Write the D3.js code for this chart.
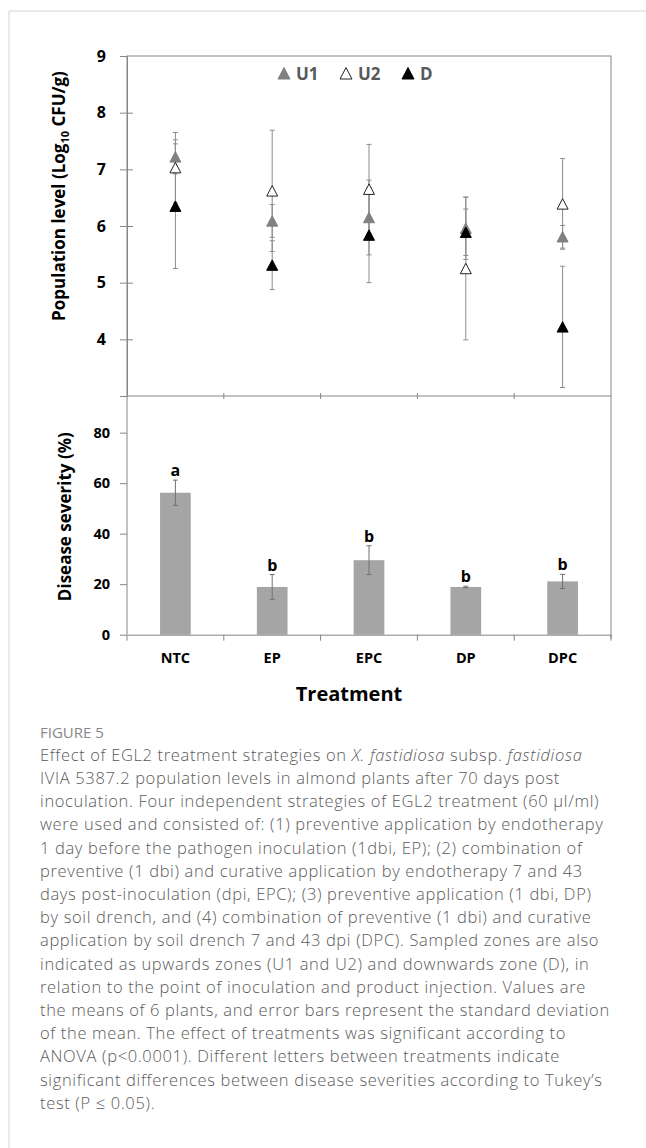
<!DOCTYPE html>
<html>
<head>
<meta charset="utf-8">
<script src="https://cdn.jsdelivr.net/npm/d3@7"></script>
<style>
  body { margin: 0; background: #fff; }
  svg { display: block; }
</style>
</head>
<body>
<svg id="chart"></svg>
<script>
// treatments and values
const treatments = ["NTC", "EP", "EPC", "DP", "DPC"];

const u1Mean = [7.22, 6.09, 6.15, 5.96, 5.81];
const u1Sd   = [0.30, 0.29, 0.66, 0.55, 0.20];
const u2Mean = [7.03, 6.62, 6.65, 5.25, 6.39];
const u2Sd   = [0.62, 1.07, 0.79, 1.26, 0.80];
const dMean  = [6.35, 5.31, 5.84, 5.89, 4.22];
const dSd    = [1.10, 0.43, 0.84, 0.41, 1.07];

const severity   = [56.2, 18.9, 29.5, 18.9, 21.1];
const severitySd = [5.0, 4.9, 5.7, 0.3, 2.8];
const letters    = ["a", "b", "b", "b", "b"];

const popTicks = [4, 5, 6, 7, 8, 9];
const sevTicks = [0, 20, 40, 60, 80];

const zones = ["U1", "U2", "D"];

const captionLines = [
  [["Effect of EGL2 treatment strategies on ", false], ["X. fastidiosa", true], [" subsp. ", false], ["fastidiosa", true]],
  [["IVIA 5387.2 population levels in almond plants after 70 days post", false]],
  [["inoculation. Four independent strategies of EGL2 treatment (60 µl/ml)", false]],
  [["were used and consisted of: (1) preventive application by endotherapy", false]],
  [["1 day before the pathogen inoculation (1dbi, EP); (2) combination of", false]],
  [["preventive (1 dbi) and curative application by endotherapy 7 and 43", false]],
  [["days post-inoculation (dpi, EPC); (3) preventive application (1 dbi, DP)", false]],
  [["by soil drench, and (4) combination of preventive (1 dbi) and curative", false]],
  [["application by soil drench 7 and 43 dpi (DPC). Sampled zones are also", false]],
  [["indicated as upwards zones (U1 and U2) and downwards zone (D), in", false]],
  [["relation to the point of inoculation and product injection. Values are", false]],
  [["the means of 6 plants, and error bars represent the standard deviation", false]],
  [["of the mean. The effect of treatments was significant according to", false]],
  [["ANOVA (p<0.0001). Different letters between treatments indicate", false]],
  [["significant differences between disease severities according to Tukey’s", false]],
  [["test (P ≤ 0.05).", false]]
];

const W = 646, H = 1148;
const font = "'Open Sans', sans-serif";
const axisColor = "#868686";

const svg = d3.select("#chart").attr("width", W).attr("height", H);

// page frame
svg.append("line").attr("x1", 9).attr("x2", W).attr("y1", 11).attr("y2", 11)
   .attr("stroke", "#d4d4d4");
svg.append("line").attr("x1", 9).attr("x2", 9).attr("y1", 11).attr("y2", H)
   .attr("stroke", "#d4d4d4");

const left = 127, right = 611;
const topY = 56, midY = 396, botY = 634.7;

const x = d3.scaleBand().domain(treatments).range([left, right]);
const yTop = d3.scaleLinear().domain([3, 9]).range([midY, topY]);
const yBot = d3.scaleLinear().domain([0, 94.5]).range([botY, midY]);

function tri(s) {
    const h = s * 0.95;
    return `M0,${-h / 2}L${s / 2},${h / 2}L${-s / 2},${h / 2}Z`;
}

// ---------- upper panel ----------
const upper = svg.append("g");

upper.append("rect")
   .attr("x", left).attr("y", topY)
   .attr("width", right - left).attr("height", midY - topY)
   .attr("fill", "none").attr("stroke", axisColor);

const axT = upper.append("g")
   .attr("transform", `translate(${left},0)`)
   .call(d3.axisLeft(yTop).tickValues(popTicks).tickFormat(d3.format("d"))
           .tickSize(7).tickPadding(14));
axT.select(".domain").attr("stroke", axisColor);
axT.selectAll(".tick line").attr("stroke", axisColor)
   .attr("x1", d => d === 9 ? 0 : 6);
axT.selectAll(".tick text")
   .attr("font-family", font).attr("font-weight", "bold")
   .attr("font-size", 16).attr("fill", "#000");

// small ticks on the shared edge
upper.selectAll(".midtick")
   .data(d3.range(1, treatments.length))
   .enter().append("line")
   .attr("x1", i => left + i * x.step()).attr("x2", i => left + i * x.step())
   .attr("y1", midY - 3).attr("y2", midY + 3)
   .attr("stroke", axisColor);

const series = [
    { name: "U1", mean: u1Mean, sd: u1Sd, fill: "#808080", stroke: "#808080" },
    { name: "U2", mean: u2Mean, sd: u2Sd, fill: "#fff", stroke: "#222" },
    { name: "D",  mean: dMean,  sd: dSd,  fill: "#000", stroke: "#000" }
];

const cx = t => x(t) + x.bandwidth() / 2;

series.forEach(s => {
    const g = upper.append("g");
    treatments.forEach((t, i) => {
        const hi = yTop(s.mean[i] + s.sd[i]), lo = yTop(s.mean[i] - s.sd[i]);
        g.append("line").attr("x1", cx(t)).attr("x2", cx(t))
         .attr("y1", hi).attr("y2", lo).attr("stroke", "#8c8c8c");
        [hi, lo].forEach(yy => {
            g.append("line").attr("x1", cx(t) - 2.5).attr("x2", cx(t) + 2.5)
             .attr("y1", yy).attr("y2", yy).attr("stroke", "#8c8c8c");
        });
    });
});

series.forEach(s => {
    upper.append("g").selectAll("path")
       .data(treatments)
       .enter().append("path")
       .attr("d", tri(11))
       .attr("transform", (t, i) => `translate(${cx(t)},${yTop(s.mean[i])})`)
       .attr("fill", s.fill)
       .attr("stroke", s.stroke)
       .attr("stroke-width", 1);
});

// legend
const legendX = [284, 346, 408];
const legend = upper.append("g");
series.forEach((s, i) => {
    legend.append("path")
          .attr("d", tri(12))
          .attr("transform", `translate(${legendX[i]},73.3)`)
          .attr("fill", s.fill).attr("stroke", s.stroke);
    legend.append("text")
          .attr("x", legendX[i] + 12).attr("y", 79.5)
          .attr("font-family", font).attr("font-weight", "bold")
          .attr("font-size", 17).attr("fill", "#595959")
          .text(zones[i]);
});

// y title upper
const t1 = upper.append("text")
   .attr("transform", "translate(65,196) rotate(-90)")
   .attr("text-anchor", "middle")
   .attr("font-family", font).attr("font-weight", "bold")
   .attr("font-size", 17).attr("fill", "#000");
t1.append("tspan").text("Population level (Log");
t1.append("tspan").attr("font-size", 11).attr("dy", 4).text("10");
t1.append("tspan").attr("dy", -4).text(" CFU/g)");

// ---------- lower panel ----------
const lower = svg.append("g");

const axB = lower.append("g")
   .attr("transform", `translate(${left},0)`)
   .call(d3.axisLeft(yBot).tickValues(sevTicks).tickFormat(d3.format("d"))
           .tickSize(7).tickPadding(10));
axB.select(".domain").remove();
axB.selectAll(".tick line").attr("stroke", axisColor);
axB.selectAll(".tick text")
   .attr("font-family", font).attr("font-weight", "bold")
   .attr("font-size", 14.5).attr("fill", "#000");

lower.append("line").attr("x1", left).attr("x2", left)
   .attr("y1", midY).attr("y2", botY).attr("stroke", axisColor);
lower.append("line").attr("x1", right).attr("x2", right)
   .attr("y1", midY).attr("y2", botY + 4).attr("stroke", axisColor);

const barW = x.bandwidth() * 0.317;

lower.selectAll(".bar")
   .data(treatments)
   .enter().append("rect")
   .attr("x", t => cx(t) - barW / 2)
   .attr("y", (t, i) => yBot(severity[i]))
   .attr("width", barW)
   .attr("height", (t, i) => botY - yBot(severity[i]))
   .attr("fill", "#a5a5a5");

treatments.forEach((t, i) => {
    const hi = yBot(severity[i] + severitySd[i]), lo = yBot(severity[i] - severitySd[i]);
    lower.append("line").attr("x1", cx(t)).attr("x2", cx(t))
       .attr("y1", hi).attr("y2", lo).attr("stroke", "#707070");
    [hi, lo].forEach(yy => {
        lower.append("line").attr("x1", cx(t) - 2.5).attr("x2", cx(t) + 2.5)
           .attr("y1", yy).attr("y2", yy).attr("stroke", "#707070");
    });
});

lower.selectAll(".letter")
   .data(treatments)
   .enter().append("text")
   .attr("x", t => cx(t))
   .attr("y", (t, i) => yBot(severity[i] + severitySd[i]) - 4)
   .attr("text-anchor", "middle")
   .attr("font-family", font).attr("font-weight", "bold")
   .attr("font-size", 16).attr("fill", "#000")
   .text((t, i) => letters[i]);

// x axis
const axX = lower.append("g")
   .attr("transform", `translate(0,${botY})`)
   .call(d3.axisBottom(x).tickSize(0).tickPadding(18));
axX.select(".domain").attr("stroke", axisColor);
axX.selectAll(".tick text")
   .attr("font-family", font).attr("font-weight", "bold")
   .attr("font-size", 14.5).attr("fill", "#000");

lower.selectAll(".xtick")
   .data(d3.range(0, treatments.length + 1))
   .enter().append("line")
   .attr("x1", i => left + i * x.step()).attr("x2", i => left + i * x.step())
   .attr("y1", botY).attr("y2", botY + 6)
   .attr("stroke", axisColor);

lower.append("text")
   .attr("transform", "translate(71,516.7) rotate(-90)")
   .attr("text-anchor", "middle")
   .attr("font-family", font).attr("font-weight", "bold")
   .attr("font-size", 17).attr("fill", "#000")
   .text("Disease severity (%)");

lower.append("text")
   .attr("x", 349).attr("y", 700.5)
   .attr("text-anchor", "middle")
   .attr("font-family", font).attr("font-weight", "bold")
   .attr("font-size", 20).attr("fill", "#000")
   .text("Treatment");

// ---------- caption ----------
svg.append("text")
   .attr("x", 40).attr("y", 737.5)
   .attr("font-family", font).attr("font-size", 15)
   .attr("fill", "#888")
   .text("FIGURE 5");

const cap = svg.append("g")
   .attr("font-family", font).attr("font-size", 16.5)
   .attr("letter-spacing", 0.65)
   .attr("font-weight", 300).attr("fill", "#5a5a5a");

captionLines.forEach((parts, i) => {
    const line = cap.append("text").attr("x", 40).attr("y", 760.7 + i * 23.2);
    parts.forEach(p => {
        line.append("tspan")
            .attr("font-style", p[1] ? "italic" : "normal")
            .text(p[0]);
    });
});
</script>
</body>
</html>
